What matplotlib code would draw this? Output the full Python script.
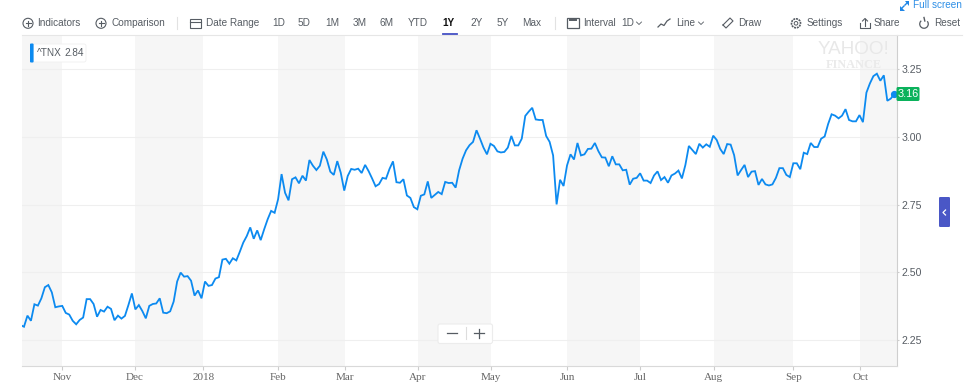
import matplotlib
matplotlib.use('Agg')
import matplotlib.pyplot as plt
from matplotlib.patches import Arc, Circle, FancyBboxPatch, Polygon, Rectangle

yields = [
    2.305, 2.299, 2.340, 2.321, 2.382, 2.377, 2.404, 2.445, 2.453, 2.426, 2.371, 2.374,
    2.376, 2.350, 2.344, 2.321, 2.308, 2.324, 2.333, 2.401, 2.401, 2.383, 2.336, 2.361,
    2.355, 2.373, 2.365, 2.323, 2.340, 2.329, 2.339, 2.379, 2.422, 2.363, 2.379, 2.357,
    2.330, 2.376, 2.383, 2.385, 2.404, 2.351, 2.349, 2.356, 2.392,
    2.466, 2.499, 2.484, 2.486, 2.469, 2.414, 2.433, 2.404, 2.466, 2.450, 2.453, 2.477,
    2.482, 2.547, 2.550, 2.532, 2.552, 2.544, 2.576, 2.610, 2.634, 2.666, 2.624, 2.655,
    2.619, 2.659, 2.696, 2.727, 2.720, 2.770, 2.863, 2.794, 2.766, 2.844, 2.851, 2.829,
    2.857, 2.839, 2.915, 2.894, 2.878, 2.894, 2.946, 2.917, 2.872, 2.860, 2.911, 2.868,
    2.802, 2.856, 2.882, 2.879, 2.883, 2.867, 2.897, 2.874, 2.847, 2.818, 2.826, 2.849,
    2.846, 2.882, 2.910, 2.833, 2.831,
    2.844, 2.784, 2.775, 2.741, 2.733, 2.783, 2.788, 2.836, 2.775, 2.786, 2.797, 2.789,
    2.834, 2.830, 2.831, 2.813, 2.877, 2.920, 2.951, 2.970, 2.982, 3.025, 2.994, 2.961,
    2.936, 2.975, 2.967, 2.947, 2.943, 2.945, 2.961, 3.004, 2.969, 2.969, 2.994, 3.078,
    3.094, 3.108, 3.065, 3.063, 3.063, 3.004, 2.982, 2.932, 2.751, 2.842, 2.819, 2.895,
    2.936, 2.917, 2.978, 2.932, 2.936, 2.956, 2.957, 2.978, 2.948, 2.925, 2.924, 2.892,
    2.929, 2.899, 2.899, 2.877, 2.879, 2.824, 2.846, 2.849, 2.866, 2.839, 2.839, 2.830,
    2.858, 2.873,
    2.841, 2.852, 2.831, 2.858, 2.865, 2.876, 2.847, 2.897, 2.967, 2.952, 2.937, 2.975,
    2.961, 2.973, 2.964, 3.005, 2.989, 2.956, 2.937, 2.974, 2.972, 2.933, 2.858, 2.878,
    2.897, 2.852, 2.872, 2.874, 2.823, 2.845, 2.825, 2.821, 2.825, 2.849, 2.885, 2.885,
    2.860, 2.852, 2.903, 2.903, 2.881, 2.942, 2.937, 2.978, 2.963, 2.963, 2.994, 3.002,
    3.048, 3.084, 3.079, 3.069, 3.079, 3.103, 3.063, 3.058, 3.058, 3.081, 3.055, 3.164,
    3.198, 3.225, 3.234, 3.208, 3.228, 3.134, 3.142, 3.159,
]
# month starts, as trading day number
month_pos = [12.0, 32.9, 52.5, 74.1, 93.1, 114.2, 135.2, 157.0, 178.0, 199.2, 222.0, 241.2]
month_labels = ['Nov', 'Dec', '2018', 'Feb', 'Mar', 'Apr', 'May', 'Jun', 'Jul', 'Aug', 'Sep', 'Oct']
y_ticks = [2.25, 2.50, 2.75, 3.00, 3.25]

toolbar_labels = ['Indicators', 'Comparison', 'Date Range', '1D', '5D', '1M', '3M', '6M', 'YTD',
                  '2Y', '5Y', 'Max', 'Interval', '1D', 'Line', 'Draw', 'Settings', 'Share', 'Reset']
toolbar_x = [37.5, 111, 205.5, 272, 298, 325, 352.5, 380, 408,
             470.5, 497, 522.5, 583.5, 621, 676.5, 738, 806.5, 874, 934]

BLUE = '#0c8af0'
GREY = '#565c63'
SANS = 'Liberation Sans'
W, H = 975.0, 387.0

fig = plt.figure(figsize=(9.75, 3.87), dpi=100)

# plot area in pixels: x 22.3-896.7, y 35-365.7
ax = fig.add_axes([22.3/W, (H-365.7)/H, (896.7-22.3)/W, (365.7-35)/H])
ax.set_xlim(0.52, 251.7)
ax.set_ylim(2.155, 3.377)

# alternate months are shaded
edges = [ax.get_xlim()[0]] + month_pos + [ax.get_xlim()[1]]
for i in range(0, len(edges)-1, 2):
    ax.axvspan(edges[i], edges[i+1], color='#f6f6f6', lw=0, zorder=0)

ax.grid(axis='y', color='#efefef', lw=0.8, zorder=1)
ax.set_axisbelow(True)
ax.plot(range(len(yields)), yields, color=BLUE, lw=1.3, zorder=3, solid_joinstyle='miter')
ax.plot([len(yields)-1], [yields[-1]], 'o', color=BLUE, ms=4.2, zorder=4, clip_on=False)

for side in ['top', 'left']:
    ax.spines[side].set_visible(False)
ax.spines['right'].set_color('#cfcfcf')
ax.spines['bottom'].set_color('#d9d9d9')

ax.set_xticks(month_pos)
ax.set_xticklabels(month_labels, family='Liberation Serif', fontsize=8, color='#666666')
ax.tick_params(axis='x', length=3, color='#cccccc', pad=2.5)
ax.yaxis.tick_right()
ax.set_yticks(y_ticks)
ax.set_yticklabels(['%.2f' % v for v in y_ticks], family=SANS, fontsize=7.6, color=GREY)
ax.tick_params(axis='y', length=1.5, color='#cccccc', pad=2)

# everything else is page furniture, drawn in pixel coordinates
ui = fig.add_axes([0, 0, 1, 1], zorder=5)
ui.set_xlim(0, W)
ui.set_ylim(H, 0)
ui.axis('off')
ui.patch.set_alpha(0)

def label(x, y, s, **kw):
    kw.setdefault('family', SANS)
    kw.setdefault('fontsize', 7.2)
    kw.setdefault('color', GREY)
    kw.setdefault('va', 'center')
    return ui.text(x, y, s, **kw)

def plus_icon(x, y):
    ui.add_patch(Circle((x, y), 5, fc='none', ec=GREY, lw=0.8))
    ui.plot([x-2.5, x+2.5], [y, y], color=GREY, lw=0.8)
    ui.plot([x, x], [y-2.5, y+2.5], color=GREY, lw=0.8)

for s, x in zip(toolbar_labels, toolbar_x):
    label(x, 23, s)
label(442.5, 23, '1Y', fontweight='bold', color='#111111')
ui.plot([442.5, 456.5], [34.3, 34.3], color='#4450c4', lw=1.3)
ui.plot([22, 962], [35, 35], color='#e6e6e6', lw=0.8, zorder=0)
ui.plot([176.5, 176.5], [17, 29], color='#e2e2e2', lw=0.8)
ui.plot([555, 555], [17, 29], color='#e2e2e2', lw=0.8)

plus_icon(28, 23.3)
plus_icon(101, 23.3)
ui.add_patch(Rectangle((190, 19), 11, 9, fc='none', ec=GREY, lw=0.8))
ui.plot([190, 201], [22, 22], color=GREY, lw=0.8)
ui.add_patch(Rectangle((567, 18), 12, 9.5, fc='none', ec=GREY, lw=0.9))
ui.plot([570, 576], [20, 20], color=GREY, lw=1.4)
ui.plot([658, 661, 664, 667, 670], [27, 24, 25.5, 21, 19], color=GREY, lw=0.9)
ui.plot([636.5, 639, 641.5], [22, 24.5, 22], color=GREY, lw=0.6)
ui.plot([698.5, 701, 703.5], [22, 24.5, 22], color=GREY, lw=0.6)
ui.plot([723, 730, 733, 726, 723], [25, 18, 21, 28, 25], color=GREY, lw=0.8)
ui.add_patch(Circle((796, 23.3), 4.5, fc='none', ec=GREY, lw=1.2, ls=(0, (1.2, 0.5))))
ui.add_patch(Circle((796, 23.3), 1.8, fc='none', ec=GREY, lw=0.7))
ui.plot([860, 860, 870, 870], [23, 28, 28, 23], color=GREY, lw=0.8)
ui.plot([865, 865], [26, 19], color=GREY, lw=0.8)
ui.plot([862.5, 865, 867.5], [21, 18.5, 21], color=GREY, lw=0.8)
ui.plot([924, 924.8], [17.5, 21], color=GREY, lw=1.0)
ui.add_patch(Arc((924, 24), 8.5, 8.5, theta1=-40, theta2=230, color=GREY, lw=0.9))

# full screen link
label(913, 5, 'Full screen', color='#2e8fe6')
ui.plot([901, 904], [9, 6], color='#1f86e6', lw=1.0)
ui.plot([905, 908], [5, 2], color='#1f86e6', lw=1.0)
ui.add_patch(Polygon([[900, 6], [900, 10.5], [904.5, 10.5]], fc='#1f86e6', ec='none'))
ui.add_patch(Polygon([[904.5, 1], [909, 1], [909, 5.5]], fc='#1f86e6', ec='none'))

# legend chip
ui.add_patch(FancyBboxPatch((31, 44), 55, 18, boxstyle='round,pad=0,rounding_size=2', fc='white', ec='#efefef', lw=0.6))
ui.add_patch(FancyBboxPatch((30, 43.5), 3.6, 19, boxstyle='round,pad=0,rounding_size=1', fc=BLUE, ec='none'))
label(37, 53, '^TNX')
label(64, 53, '2.84')

# watermark
label(853.5, 50, 'YAHOO!', ha='center', fontsize=13.6, color='#e8e8e8')
label(853.5, 65, 'FINANCE', ha='center', fontsize=8.8, color='#eaeaea', family='Liberation Serif', fontweight='bold')

# price flag at the last value
flag_y = ax.transData.transform((0, yields[-1]))[1]
flag_y = H - flag_y
ui.add_patch(FancyBboxPatch((896.5, flag_y-7), 23, 14, boxstyle='round,pad=0,rounding_size=1.5', fc='#0bb25c', ec='none'))
label(908, flag_y, '%.2f' % yields[-1], ha='center', color='white', fontsize=7.8)

# side tab
ui.add_patch(FancyBboxPatch((939, 197), 11, 30, boxstyle='round,pad=0,rounding_size=1.2', fc='#4a57c6', ec='none'))
ui.plot([945.5, 943, 945.5], [210, 212.5, 215], color='white', lw=0.9)

# zoom control
ui.add_patch(FancyBboxPatch((438, 324), 54.5, 19.5, boxstyle='round,pad=0,rounding_size=2', fc='white', ec='#ececec', lw=0.8))
ui.plot([447, 457], [333.3, 333.3], color=GREY, lw=0.9)
ui.plot([466.3, 466.3], [327, 339], color='#dddddd', lw=0.8)
ui.plot([474, 483.5], [333.3, 333.3], color=GREY, lw=0.9)
ui.plot([478.7, 478.7], [328.5, 338], color=GREY, lw=0.9)

fig.savefig('out.png', dpi=100)
